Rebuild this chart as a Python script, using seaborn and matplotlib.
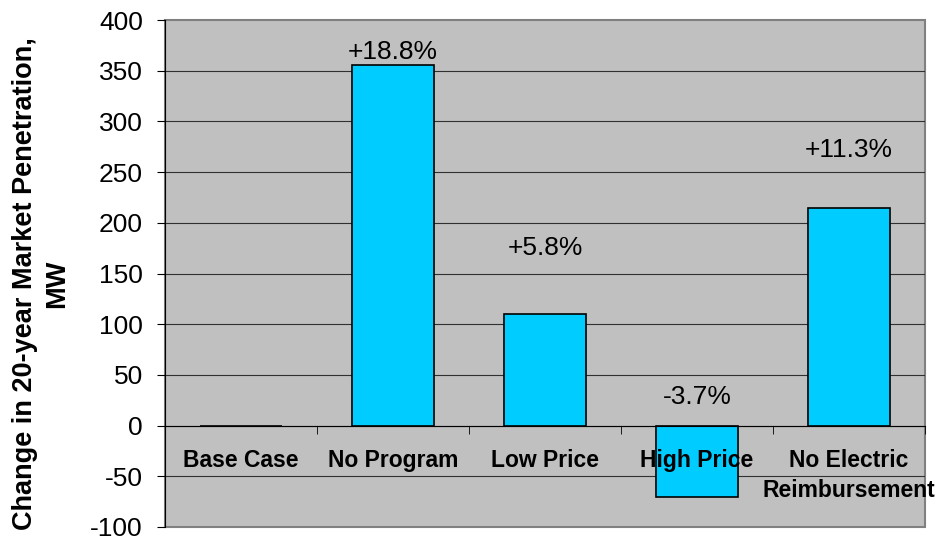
import matplotlib.pyplot as plt
import numpy as np
import pandas as pd
import seaborn as sns

categories = ['Base Case', 'No Program', 'Low Price', 'High Price', 'No Electric\nReimbursement']
values = [0, 356, 110, -70, 215]
pct_labels = ['', '+18.8%', '+5.8%', '-3.7%', '+11.3%']
pct_label_y = [np.nan, 368, 175, 28, 272]

df = pd.DataFrame({'Scenario': categories, 'MW': values})

plt.rcParams['font.family'] = ['Liberation Sans', 'DejaVu Sans']
plt.rcParams['axes.unicode_minus'] = False

fig = plt.figure(figsize=(9.4, 5.37), dpi=100)
ax = fig.add_axes([165 / 940, 1 - 527 / 537, (925 - 165) / 940, (527 - 20) / 537])
ax.set_facecolor('#C0C0C0')
ax.patch.set_edgecolor('#808080')
ax.patch.set_linewidth(1.5)

sns.barplot(x='Scenario', y='MW', data=df, color='#00CCFF', saturation=1,
            edgecolor='black', linewidth=1.2, width=0.54, ax=ax, zorder=1)

ax.set_ylim(-100, 400)
ax.set_xlim(-0.5, len(categories) - 0.5)
yticks = np.arange(-100, 401, 50)
ax.set_yticks(yticks)
# gridlines behind the bars, category labels stay on top
for y in yticks[1:-1]:
    ax.axhline(y, color='#303030', linewidth=0.8, zorder=0.5)

# x axis sits on zero, labels below it inside the plot
for s in ['top', 'right']:
    ax.spines[s].set_visible(False)
ax.spines['bottom'].set_position(('data', 0))
ax.spines['bottom'].set_color('black')
ax.spines['left'].set_color('black')
ax.set_xticks(np.arange(len(categories)) + 0.5, minor=True)
ax.tick_params(axis='x', which='minor', length=6, direction='out', color='black')
ax.tick_params(axis='x', which='major', length=0, pad=17)
ax.set_xticks(range(len(categories)))
ax.set_xticklabels(categories, fontsize=16.5, fontweight='bold', linespacing=1.4)
ax.tick_params(axis='y', length=6, pad=10, labelsize=19)

ax.set_xlabel('')
ax.set_ylabel('Change in 20-year Market Penetration,\nMW', fontsize=19.5, fontweight='bold', linespacing=1.3)
ax.yaxis.set_label_coords(-0.125, 0.48)

for i, (t, y) in enumerate(zip(pct_labels, pct_label_y)):
    if t:
        ax.text(i, y, t, ha='center', va='center', fontsize=19, zorder=4)

fig.savefig('out.png', dpi=100)
